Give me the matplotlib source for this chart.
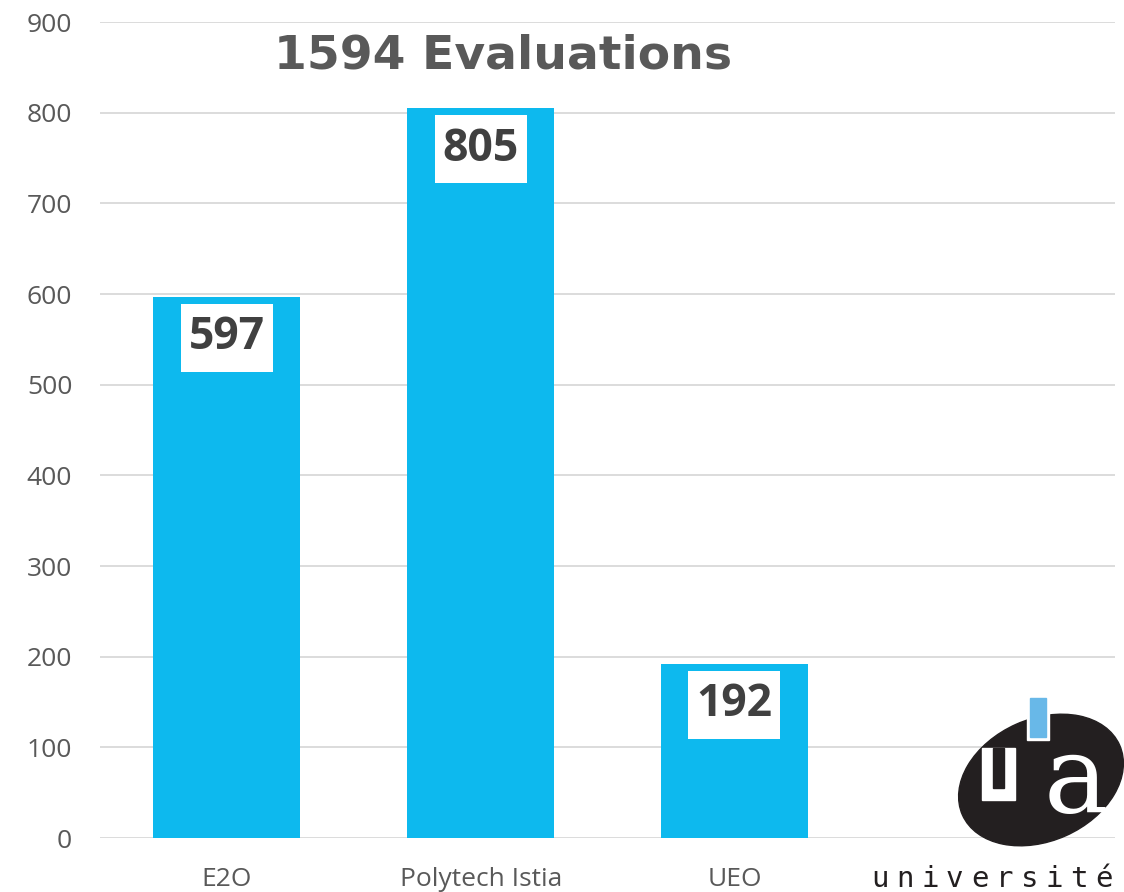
import matplotlib
matplotlib.use("Agg")
import matplotlib.pyplot as plt
from matplotlib.patches import Ellipse, Rectangle

categories = ["E2O", "Polytech Istia", "UEO", ""]
values = [597, 805, 192, None]
yticks = [0, 100, 200, 300, 400, 500, 600, 700, 800, 900]
title = "1594 Evaluations"
logo_word = "université"

BAR = "#0DB9EE"
GREY = "#595959"

fig = plt.figure(figsize=(11.24, 8.92), dpi=100)
ax = fig.add_axes([100/1124, 1-838/892, 1015/1124, (838-22)/892])

xs = list(range(len(categories)))
bar_x = [x for x, v in zip(xs, values) if v is not None]
bar_v = [v for v in values if v is not None]
ax.bar(bar_x, bar_v, width=0.58, color=BAR, zorder=2)
ax.set_xlim(-0.5, len(categories) - 0.5)
ax.set_ylim(0, 900)
ax.set_yticks(yticks)
ax.set_xticks(xs)
ax.set_xticklabels(categories)
ax.grid(axis="y", color="#D9D9D9", linewidth=1.3, zorder=0)
ax.set_axisbelow(True)
for s in ax.spines.values():
    s.set_visible(False)
ax.tick_params(length=0, colors=GREY, labelsize=19)
ax.tick_params(axis="y", pad=20)
ax.tick_params(axis="x", pad=21)
for lab in ax.get_xticklabels() + ax.get_yticklabels():
    lab.set_fontfamily("Open Sans")

# white label boxes inside bar ends
box_w = 0.362
box_h = 75
box_gap = 7.7
for x, v in zip(bar_x, bar_v):
    ax.add_patch(Rectangle((x - box_w/2, v - box_gap - box_h), box_w, box_h,
                           facecolor="white", edgecolor="none", zorder=3))
    ax.annotate(str(v), xy=(x, v - box_gap - box_h/2), ha="center", va="center",
                fontsize=32, fontweight="bold", fontfamily="Open Sans",
                color="#404040", zorder=4)

fig.text(503/1124, 1-56/892, title, ha="center", va="center", fontsize=34,
         fontweight="bold", fontfamily="DejaVu Sans", color=GREY)

# logo (decorative), in figure pixel coordinates
lax = fig.add_axes([0, 0, 1, 1], facecolor="none")
lax.set_xlim(0, 1124)
lax.set_ylim(892, 0)
lax.axis("off")
lax.add_patch(Ellipse((1041, 780), 172, 122, angle=-24, color="#231F20", zorder=1))
lax.add_patch(Rectangle((982, 748), 33, 52, color="white", zorder=2))
lax.add_patch(Rectangle((993, 748), 11, 40, color="#231F20", zorder=3))
lax.add_patch(Rectangle((1027, 696), 22, 44, color="white", zorder=2))
lax.add_patch(Rectangle((1030, 698), 16, 39, color="#68B8E8", zorder=3))
lax.text(1076, 782, "a", ha="center", va="center", fontsize=78,
         fontfamily="DejaVu Serif", color="white", zorder=4)
n = len(logo_word)
for i, ch in enumerate(logo_word):
    lax.text(880 + i * (1104 - 880) / (n - 1), 879, ch, ha="center", va="center",
             fontsize=21, fontfamily="DejaVu Sans Mono", color="#231F20")

fig.savefig("out.png", dpi=100)
